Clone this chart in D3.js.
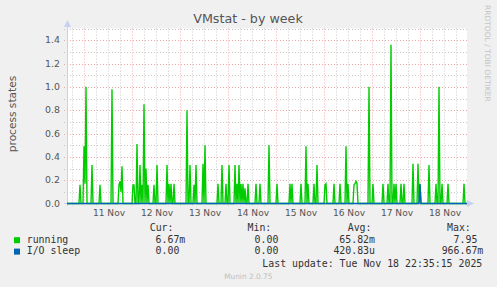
<html>
<script src="https://d3js.org/d3.v7.js"></script>
<body style="margin:0;background:#f0f0f0;">
<svg id="chart" width="497" height="287"></svg>
<script>
    // spikes (everything else is 0)
    const running = [
        ["2025-11-10 22:00", .16], ["2025-11-11 00:00", .49], ["2025-11-11 00:30", .17], ["2025-11-11 01:00", 1.0],
        ["2025-11-11 04:00", .33], ["2025-11-11 08:00", .16], ["2025-11-11 14:00", .98], ["2025-11-11 17:30", .16],
        ["2025-11-11 18:00", .19], ["2025-11-11 18:30", .10], ["2025-11-11 19:00", .32], ["2025-11-12 00:30", .16],
        ["2025-11-12 01:00", .16], ["2025-11-12 02:30", .51], ["2025-11-12 04:00", .33], ["2025-11-12 05:00", .16],
        ["2025-11-12 06:00", .85], ["2025-11-12 07:00", .30], ["2025-11-12 08:00", .16], ["2025-11-12 11:00", .16],
        ["2025-11-12 12:30", .33], ["2025-11-12 17:30", .33], ["2025-11-12 18:30", .17], ["2025-11-12 19:30", .17],
        ["2025-11-12 21:00", .17], ["2025-11-13 03:30", .80], ["2025-11-13 05:00", .33], ["2025-11-13 07:00", .16],
        ["2025-11-13 08:00", .33], ["2025-11-13 11:30", .34], ["2025-11-13 12:30", .50], ["2025-11-13 19:00", .17],
        ["2025-11-13 21:00", .33], ["2025-11-13 23:00", .17], ["2025-11-14 00:30", .33], ["2025-11-14 03:30", .33],
        ["2025-11-14 04:30", .17], ["2025-11-14 05:30", .33], ["2025-11-14 06:30", .17], ["2025-11-14 07:30", .17],
        ["2025-11-14 08:30", .13], ["2025-11-14 10:00", .17], ["2025-11-14 14:00", .17], ["2025-11-14 16:00", .17],
        ["2025-11-14 20:30", .50], ["2025-11-15 00:30", .17], ["2025-11-15 07:00", .17], ["2025-11-15 08:00", .17],
        ["2025-11-15 12:30", .17], ["2025-11-15 15:00", .49], ["2025-11-15 16:00", .17], ["2025-11-15 19:00", .17],
        ["2025-11-15 20:30", .33], ["2025-11-16 00:30", .16], ["2025-11-16 01:00", .17], ["2025-11-16 05:00", .17],
        ["2025-11-16 08:00", .17], ["2025-11-16 11:00", .49], ["2025-11-16 12:00", .17], ["2025-11-16 15:00", .16],
        ["2025-11-16 15:30", .17], ["2025-11-16 16:00", .19], ["2025-11-16 16:30", .17], ["2025-11-16 22:30", 1.0],
        ["2025-11-17 00:30", .17], ["2025-11-17 05:30", .17], ["2025-11-17 08:00", .17], ["2025-11-17 09:30", 1.36],
        ["2025-11-17 11:00", .17], ["2025-11-17 12:00", .17], ["2025-11-17 14:30", .17], ["2025-11-17 16:00", .17],
        ["2025-11-17 20:30", .34], ["2025-11-17 23:00", .34], ["2025-11-18 00:00", .16], ["2025-11-18 04:30", .33],
        ["2025-11-18 08:00", .17], ["2025-11-18 09:30", 1.0], ["2025-11-18 11:00", .17], ["2025-11-18 14:00", .17],
        ["2025-11-18 22:00", .17]
    ];
    const ioSleep = [["2025-11-18 00:00", .17]];

    const yTicks = [0, 0.2, 0.4, 0.6, 0.8, 1.0, 1.2, 1.4];
    const dayLabels = ["11 Nov", "12 Nov", "13 Nov", "14 Nov", "15 Nov", "16 Nov", "17 Nov", "18 Nov"];

    const seriesNames = ["running", "I/O sleep"];
    const seriesColors = ["#00cc00", "#0066b3"];
    const curVals = ["6.67m", "0.00"];
    const minVals = ["0.00", "0.00"];
    const avgVals = ["65.82m", "420.83u"];
    const maxVals = ["7.95", "966.67m"];

    const parse = d3.timeParse("%Y-%m-%d %H:%M");
    const tStart = parse("2025-11-10 15:30"), tEnd = parse("2025-11-18 23:30");

    let svg = d3.select("#chart");
    let x = d3.scaleTime().domain([tStart, tEnd]).range([67, 467]);
    let y = d3.scaleLinear().domain([0, 1.5]).range([203.5, 28.5]);

    svg.append("rect").attr("x", 67).attr("y", 28.5).attr("width", 400).attr("height", 175).attr("fill", "#fff");

    // grid
    let minorH = d3.range(1, 16, 2).map(d => d / 10);
    svg.selectAll(".hmin").data(minorH).join("line")
        .attr("x1", 64).attr("x2", 467).attr("y1", d => Math.round(y(d)) + .5).attr("y2", d => Math.round(y(d)) + .5)
        .attr("stroke", "#c8c8c8").attr("stroke-dasharray", "1,2");
    svg.selectAll(".hmaj").data(yTicks.slice(1)).join("line")
        .attr("x1", 64).attr("x2", 467).attr("y1", d => Math.round(y(d)) + .5).attr("y2", d => Math.round(y(d)) + .5)
        .attr("stroke", "#f0a8a8").attr("stroke-dasharray", "1,2");
    let sixHours = d3.timeHour.every(6).range(tStart, tEnd).filter(d => d.getHours() != 0);
    svg.selectAll(".vmin").data(sixHours).join("line")
        .attr("x1", d => Math.round(x(d)) + .5).attr("x2", d => Math.round(x(d)) + .5).attr("y1", 28.5).attr("y2", 206)
        .attr("stroke", "#c8c8c8").attr("stroke-dasharray", "1,2");
    let days = d3.timeDay.range(tStart, tEnd);
    svg.selectAll(".vmaj").data(days).join("line")
        .attr("x1", d => Math.round(x(d)) + .5).attr("x2", d => Math.round(x(d)) + .5).attr("y1", 28.5).attr("y2", 206)
        .attr("stroke", "#f0a8a8").attr("stroke-dasharray", "1,2");

    // axes
    svg.append("line").attr("x1", 67.5).attr("x2", 67.5).attr("y1", 206).attr("y2", 24).attr("stroke", "#c8d0f4");
    svg.append("path").attr("d", "M64,27L67.5,20L71,27Z").attr("fill", "#c8d0f4");
    svg.append("line").attr("x1", 64).attr("x2", 470).attr("y1", 203.5).attr("y2", 203.5).attr("stroke", "#c8d0f4");
    svg.append("path").attr("d", "M467,200L474,203.5L467,207Z").attr("fill", "#c8d0f4");

    svg.selectAll(".ytl").data(yTicks).join("text")
        .attr("x", 60).attr("y", d => y(d)).attr("dy", "0.35em").attr("text-anchor", "end")
        .style("font", "9.4px 'DejaVu Sans'").attr("fill", "#555").text(d => d.toFixed(1));
    svg.selectAll(".xtl").data(days).join("text")
        .attr("x", d => x(d3.timeHour.offset(d, 12)) + 1).attr("y", 215.7).attr("text-anchor", "middle")
        .style("font", "9.1px 'DejaVu Sans'").attr("fill", "#555").text((d, i) => dayLabels[i]);

    // series
    function fullSeries(spikes) {
        let m = new Map(spikes.map(d => [+parse(d[0]), d[1]]));
        return d3.timeMinute.every(30).range(tStart, d3.timeMinute.offset(tEnd, 1))
            .map(t => ({t: t, v: m.has(+t) ? m.get(+t) : 0}));
    }
    let line = d3.line().x(d => x(d.t)).y(d => y(d.v));
    [running, ioSleep].forEach((s, i) => {
        svg.append("path").datum(fullSeries(s)).attr("d", line)
            .attr("fill", "none").attr("stroke", seriesColors[i]).attr("stroke-width", 1.4);
    });

    // texts
    svg.append("text").attr("x", 248).attr("y", 23).attr("text-anchor", "middle")
        .style("font", "12.7px 'DejaVu Sans'").attr("fill", "#555").text("VMstat - by week");
    svg.append("text").attr("transform", "translate(15.5,114) rotate(-90)").attr("text-anchor", "middle")
        .style("font", "10.6px 'DejaVu Sans'").attr("fill", "#555").text("process states");
    svg.append("text").attr("transform", "translate(485,5) rotate(90)")
        .style("font", "7.5px 'DejaVu Sans'").attr("fill", "#c4c4c4").text("RRDTOOL / TOBI OETIKER");

    // legend
    const mono = "9.9px 'DejaVu Sans Mono'";
    const charW = 5.96;
    let heads = [["Cur:", 149.7], ["Min:", 247.5], ["Avg:", 347.7], ["Max:", 447]];
    svg.selectAll(".hd").data(heads).join("text")
        .attr("x", d => d[1]).attr("y", 230.7).style("font", mono).attr("fill", "#333").text(d => d[0]);
    let cols = [[curVals, 185.3], [minVals, 284.3], [avgVals, 375], [maxVals, 483.3]];
    seriesNames.forEach((name, i) => {
        let by = 242.7 + i * 11.4;
        svg.append("rect").attr("x", 14).attr("y", by - 5.5).attr("width", 6).attr("height", 6).attr("fill", seriesColors[i]);
        svg.append("text").attr("x", 26.7).attr("y", by).style("font", mono).attr("fill", "#333").text(name);
        cols.forEach(c => {
            let v = c[0][i];
            let right = /\d$/.test(v) ? c[1] - charW : c[1];
            svg.append("text").attr("x", right).attr("y", by).attr("text-anchor", "end")
                .style("font", mono).attr("fill", "#333").text(v);
        });
    });
    svg.append("text").attr("x", 482.3).attr("y", 267.3).attr("text-anchor", "end")
        .style("font", mono).attr("fill", "#333").text("Last update: Tue Nov 18 22:35:15 2025");
    svg.append("text").attr("x", 248.3).attr("y", 278.5).attr("text-anchor", "middle")
        .style("font", "7.4px 'DejaVu Sans'").attr("fill", "#c0c0c0").text("Munin 2.0.75");
</script>
</body>
</html>
